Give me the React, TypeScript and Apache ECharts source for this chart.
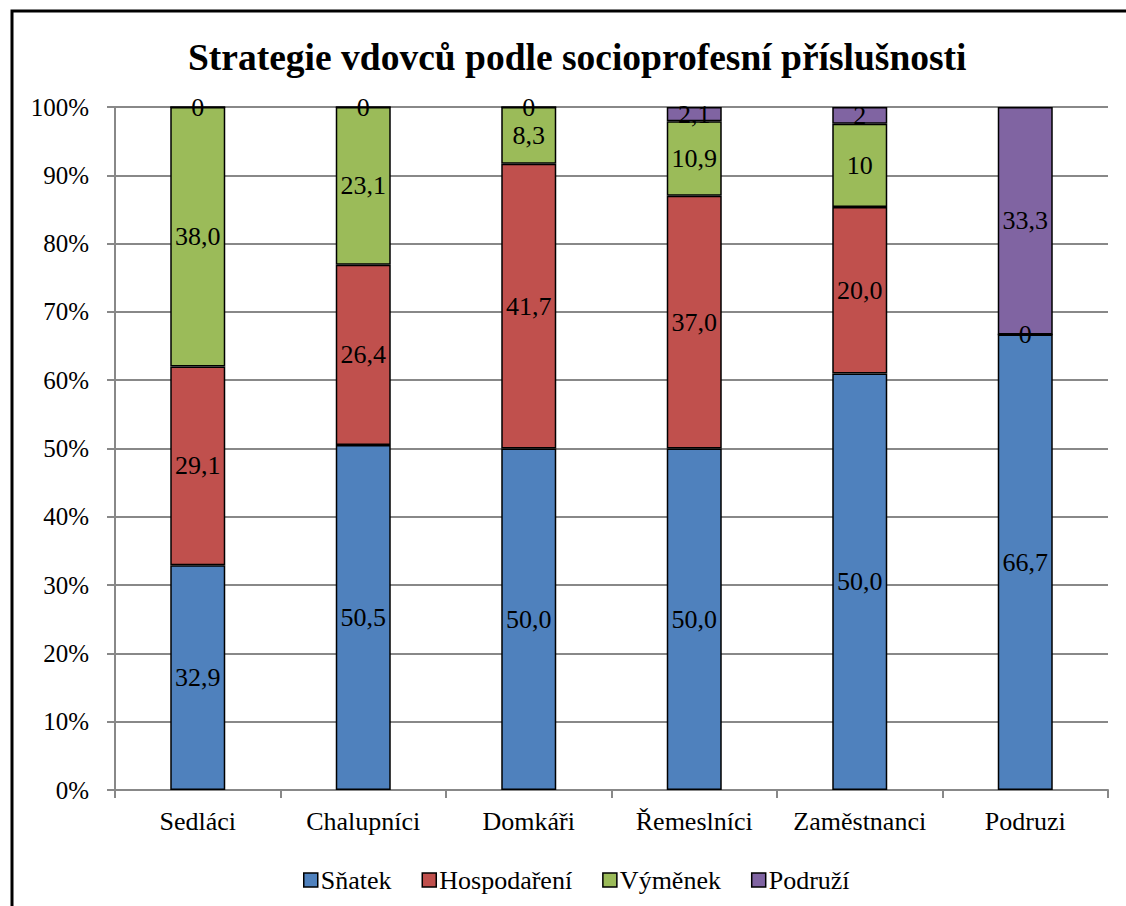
import React, { useEffect, useRef } from "react";
import * as echarts from "echarts";

const categories = ["Sedláci", "Chalupníci", "Domkáři", "Řemeslníci", "Zaměstnanci", "Podruzi"];
const seriesNames = ["Sňatek", "Hospodaření", "Výměnek", "Podruží"];
const snatek = [32.9, 50.5, 50.0, 50.0, 50.0, 66.7];
const hospodareni = [29.1, 26.4, 41.7, 37.0, 20.0, 0];
const vymenek = [38.0, 23.1, 8.3, 10.9, 10, null];
const podruzi = [0, 0, 0, 2.1, 2, 33.3];
const snatekLabels = ["32,9", "50,5", "50,0", "50,0", "50,0", "66,7"];
const hospodareniLabels = ["29,1", "26,4", "41,7", "37,0", "20,0", "0"];
const vymenekLabels = ["38,0", "23,1", "8,3", "10,9", "10", ""];
const podruziLabels = ["0", "0", "0", "2,1", "2", "33,3"];
const yTicks = [0, 10, 20, 30, 40, 50, 60, 70, 80, 90, 100];
const colors = ["#4F81BD", "#C0504D", "#9BBB59", "#8064A2"];

const FONT = "Liberation Serif";

export default function App() {
  const ref = useRef<HTMLDivElement>(null);
  useEffect(() => {
    if (!ref.current) return;
    const chart = echarts.init(ref.current, null, { renderer: "svg" });
    const raw = [snatek, hospodareni, vymenek, podruzi];
    const labels = [snatekLabels, hospodareniLabels, vymenekLabels, podruziLabels];
    const totals = categories.map((_, i) =>
      raw.reduce((s, arr) => s + (arr[i] == null ? 0 : (arr[i] as number)), 0)
    );
    const series = raw.map((arr, si) => ({
      name: seriesNames[si],
      type: "bar",
      stack: "total",
      barWidth: 55,
      data: arr.map((v, i) => (v == null ? null : ((v as number) / totals[i]) * 100)),
      itemStyle: { color: colors[si], borderColor: "#000", borderWidth: 1.5 },
      label: {
        show: true,
        position: "inside",
        color: "#000",
        fontFamily: FONT,
        fontSize: 26,
        formatter: (p: any) => labels[si][p.dataIndex],
      },
    }));
    chart.setOption({
      animation: false,
      backgroundColor: "#fff",
      color: colors,
      textStyle: { fontFamily: FONT },
      title: {
        text: "Strategie vdovců podle socioprofesní příslušnosti",
        left: 183,
        top: 33,
        textStyle: { fontFamily: FONT, fontSize: 37.5, fontWeight: "bold", color: "#000" },
      },
      grid: { left: 115, right: 18, top: 107, bottom: 116 },
      legend: {
        data: seriesNames,
        top: 862,
        left: 298,
        itemWidth: 14,
        itemHeight: 14,
        itemGap: 30,
        icon: "rect",
        itemStyle: { borderColor: "#000", borderWidth: 1.5 },
        textStyle: { fontFamily: FONT, fontSize: 26, color: "#000", padding: [0, 0, 0, -2] },
      },
      xAxis: {
        type: "category",
        data: categories,
        axisLine: { lineStyle: { color: "#888", width: 2 } },
        axisTick: { show: true, length: 8, lineStyle: { color: "#888", width: 2 } },
        axisLabel: { fontFamily: FONT, fontSize: 26, color: "#000", margin: 18, interval: 0 },
      },
      yAxis: {
        type: "value",
        min: yTicks[0],
        max: yTicks[yTicks.length - 1],
        interval: 10,
        axisLine: { show: true, lineStyle: { color: "#888", width: 2 } },
        axisTick: { show: true, length: 8, lineStyle: { color: "#888", width: 2 } },
        axisLabel: { fontFamily: FONT, fontSize: 25, color: "#000", margin: 26, formatter: "{value}%" },
        splitLine: { lineStyle: { color: "#888", width: 2 } },
      },
      graphic: [
        {
          type: "rect",
          shape: { x: 12, y: 11, width: 1130, height: 920 },
          style: { fill: "none", stroke: "#000", lineWidth: 3 },
          silent: true,
        },
      ],
      series,
    });
    return () => {
      chart.dispose();
    };
  }, []);
  return (
    <>
      <style>{`.chart-root svg text, .chart-root svg tspan { font-family: 'Liberation Serif', 'Times New Roman', serif !important; }`}</style>
      <div
        ref={ref}
        className="chart-root"
        style={{ position: "absolute", left: 0, top: 0, width: 1126, height: 906 }}
      />
    </>
  );
}
